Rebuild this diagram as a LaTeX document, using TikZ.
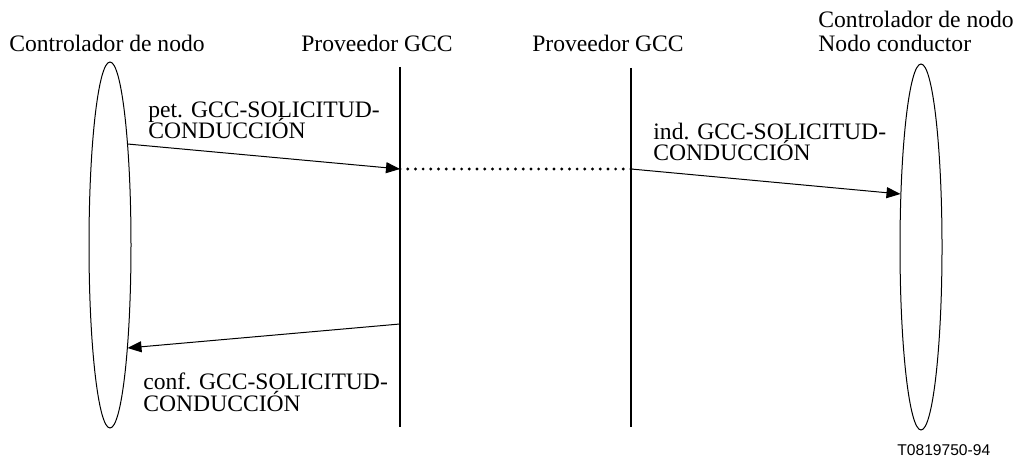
\documentclass[tikz,border=0pt]{standalone}
\usepackage{fontspec}
\setmainfont{Liberation Serif}
\newfontfamily\labelsans{Liberation Sans}
\usetikzlibrary{arrows.meta,shapes.geometric}

\tikzset{
  lbl/.style={anchor=base west,inner sep=0pt,align=left,
    font={\fontsize{11.8}{10.8}\selectfont\lineskiplimit=-20pt}},
  hdr/.style={anchor=base,inner sep=0pt,font=\fontsize{11.8}{12}\selectfont},
  actor/.style={draw,ellipse,minimum width=21pt,minimum height=183pt,
    inner sep=0pt,line width=0.5pt},
  lifeline/.style={line width=1pt},
  msg/.style={line width=0.5pt,-{Triangle[length=7pt,width=5.5pt]}}
}

\begin{document}
\begin{tikzpicture}[x=0.5pt,y=-0.5pt]
        \useasboundingbox (0,0) rectangle (1020,459);

        % Headers
        \node[hdr] (hA) at (107,52) {Controlador de nodo};
        \node[hdr] (hB) at (377,52) {Proveedor GCC};
        \node[hdr] (hC) at (608,52) {Proveedor GCC};
        \node[hdr,anchor=base west,align=left] (hD) at (818,52) {Controlador de nodo\\Nodo conductor};

        % Actors
        \node[actor] (nodeA) at (110,245) {};
        \node[actor] (nodeD) at (921,247) {};

        % Lifelines
        \coordinate (gccB top) at (400,67);
        \coordinate (gccB bot) at (400,427);
        \coordinate (gccC top) at (631,68);
        \coordinate (gccC bot) at (631,427);
        \draw[lifeline] (gccB top) -- (gccB bot);
        \draw[lifeline] (gccC top) -- (gccC bot);

        % Messages
        \coordinate (reqA) at (127.5,144);
        \coordinate (reqB) at (400,169);
        \coordinate (indC) at (631,169);
        \coordinate (indD) at (900.5,194);
        \coordinate (cnfB) at (400,324);
        \coordinate (cnfA) at (127.5,348);

        \draw[msg] (reqA) -- (reqB);
        \draw[line width=1.6pt,line cap=round,dash pattern=on 0pt off 3.85pt]
          (reqB) -- (indC);
        \draw[msg] (indC) -- (indD);
        \draw[msg] (cnfB) -- (cnfA);

        \node[lbl] (req) at (148,139) {pet. GCC-SOLICITUD-\\CONDUCCIÓN};
        \node[lbl] (ind) at (653,161) {ind. GCC-SOLICITUD-\\CONDUCCIÓN};
        \node[lbl] (cnf) at (143,411) {conf. GCC-SOLICITUD-\\CONDUCCIÓN};

        % Figure number
        \node[anchor=base west,inner sep=0pt,font=\labelsans\fontsize{7.8}{9}\selectfont]
          (fig) at (897,455) {T0819750-94};
\end{tikzpicture}
\end{document}
